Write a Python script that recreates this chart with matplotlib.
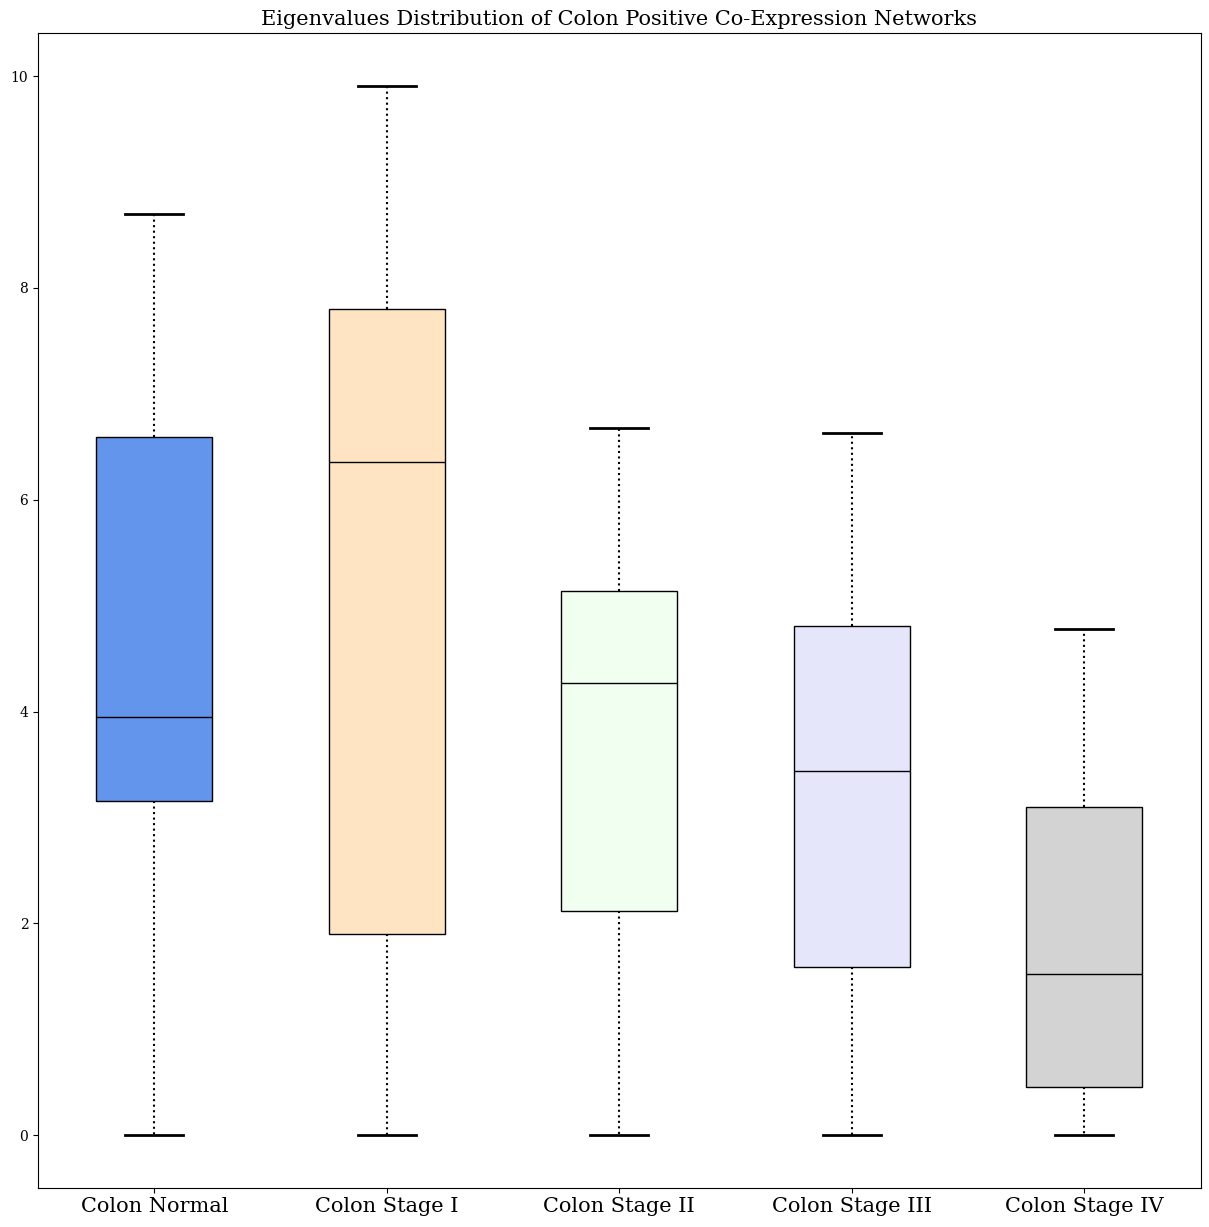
import matplotlib
matplotlib.use("Agg")
import matplotlib.pyplot as plt

plt.rcParams['font.family'] = ['DejaVu Serif']

categories = ["Colon Normal", "Colon Stage I", "Colon Stage II", "Colon Stage III", "Colon Stage IV"]
whislo = [0.0, 0.0, 0.0, 0.0, 0.0]
q1 = [3.16, 1.90, 2.12, 1.59, 0.46]
med = [3.95, 6.36, 4.27, 3.44, 1.52]
q3 = [6.59, 7.80, 5.14, 4.81, 3.10]
whishi = [8.70, 9.91, 6.68, 6.63, 4.78]
colors = ["cornflowerblue", "bisque", "honeydew", "lavender", "lightgray"]

stats = []
for i, c in enumerate(categories):
    stats.append(dict(label=c, whislo=whislo[i], q1=q1[i], med=med[i],
                      q3=q3[i], whishi=whishi[i], fliers=[]))

fig, ax = plt.subplots(figsize=(12.09, 12.27), dpi=100)
fig.subplots_adjust(left=0.0315, right=0.993, top=0.973, bottom=0.032)
bp = ax.bxp(stats, widths=0.5, patch_artist=True, showfliers=False,
            medianprops=dict(color='black', linewidth=1),
            whiskerprops=dict(linestyle=':', linewidth=1.5, color='black'),
            capprops=dict(linewidth=2, color='black'),
            boxprops=dict(edgecolor='black', linewidth=1))
for patch, col in zip(bp['boxes'], colors):
    patch.set_facecolor(col)

ax.set_title("Eigenvalues Distribution of Colon Positive Co-Expression Networks", fontsize=15)
ax.tick_params(axis='x', labelsize=15)
ax.tick_params(axis='y', labelsize=10)
fig.savefig("out.png", dpi=100)
